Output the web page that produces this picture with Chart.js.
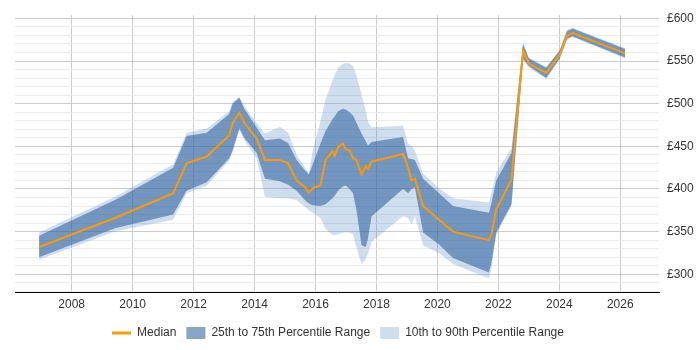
<!DOCTYPE html>
<html><head><meta charset="utf-8">
<script src="https://cdn.jsdelivr.net/npm/chart.js@4"></script>
<style>html,body{margin:0;padding:0;background:#fff}#wrap{width:700px;height:350px}</style>
</head><body><div id="wrap"><canvas id="c" width="700" height="350"></canvas></div>
<script>
const years = [2006.93, 2009.42, 2011.33, 2011.77, 2012.43, 2013.17, 2013.28, 2013.50, 2013.68, 2014.07,
  2014.34, 2014.83, 2015.10, 2015.38, 2015.65, 2015.78, 2015.91, 2016.16, 2016.33, 2016.56,
  2016.63, 2016.74, 2016.90, 2016.99, 2017.12, 2017.23, 2017.34, 2017.51, 2017.65, 2017.72,
  2017.84, 2018.87, 2019.04, 2019.15, 2019.26, 2019.53, 2020.08, 2020.51, 2021.69, 2021.77,
  2021.93, 2022.43, 2022.81, 2023.00, 2023.57, 2024.01, 2024.25, 2024.43, 2026.16];
const median = [332, 366, 395, 430, 438, 463, 477, 489, 477, 459, 434, 434, 430, 410, 402, 396, 401, 404, 434, 444,
  439, 449, 453, 447, 445, 436, 434, 417, 427, 423, 432, 441, 425, 410, 412, 380, 363, 350, 340, 346,
  376, 411, 562, 547, 536, 557, 579, 583, 559];
const p75 = [345, 387, 425, 462, 466, 488, 500, 507, 493, 472, 457, 459, 454, 434, 422, 417, 429, 453, 468, 482,
  485, 491, 494, 493, 490, 486, 478, 465, 456, 451, 455, 461, 436, 435, 434, 412, 394, 380, 372, 383,
  410, 442, 570, 553, 542, 562, 585, 588, 564];
const p25 = [320, 354, 370, 398, 408, 436, 445, 471, 459, 442, 412, 409, 405, 398, 387, 383, 381, 380, 382, 389,
  392, 398, 403, 404, 400, 395, 376, 334, 332, 342, 368, 400, 395, 400, 402, 349, 334, 319, 302, 313,
  349, 382, 553, 544, 530, 553, 576, 579, 554];
const p90 = [349, 391, 429, 466, 471, 491, 502, 508, 496, 477, 465, 473, 466, 440, 425, 419, 445, 479, 505, 527,
  534, 542, 547, 548, 547, 544, 533, 511, 491, 479, 472, 474, 453, 451, 445, 418, 400, 389, 384, 395,
  419, 448, 572, 554, 543, 563, 586, 589, 565];
const p10 = [317, 350, 364, 395, 404, 433, 443, 469, 456, 436, 391, 389, 389, 387, 379, 375, 372, 366, 353, 346,
  346, 347, 349, 349, 349, 347, 332, 312, 318, 324, 338, 368, 366, 358, 368, 334, 324, 312, 295, 306,
  346, 380, 551, 542, 529, 552, 574, 578, 553];
const xTicks = [2008, 2010, 2012, 2014, 2016, 2018, 2020, 2022, 2024, 2026];
const yTicks = [280, 290, 300, 310, 320, 330, 340, 350, 360, 370, 380, 390, 400, 410, 420, 430, 440, 450, 460, 470,
  480, 490, 500, 510, 520, 530, 540, 550, 560, 570, 580, 590, 600];
const seriesLabels = ['Median', '25th to 75th Percentile Range', '10th to 90th Percentile Range'];

const ORANGE = '#ff9900';
const DARK = 'rgba(39,91,155,0.55)';
const LIGHT = 'rgba(95,145,198,0.3)';
const NONE = 'rgba(0,0,0,0)';
const FONT = {family: '"Liberation Sans", Arial, sans-serif', size: 12};
const TXT = '#333';

const pts = arr => arr.map((v, i) => ({x: years[i], y: v}));
const band = (data, color, fill) => ({data: pts(data), borderColor: NONE, borderWidth: 0, backgroundColor: color,
  fill: fill, pointRadius: 0, pointHoverRadius: 0, tension: 0});

const legendShift = {
  id: 'legendShift',
  afterLayout(chart) {
    const l = chart.legend;
    if (l) { l.left -= 19.5; l.right -= 19.5; }
  }
};

new Chart(document.getElementById('c'), {
  type: 'line',
  plugins: [legendShift],
  data: {
    datasets: [
      {label: seriesLabels[0], data: pts(median), borderColor: ORANGE, borderWidth: 2, backgroundColor: ORANGE,
       fill: false, pointRadius: 0, pointHoverRadius: 0, tension: 0},
      Object.assign(band(p75, DARK, '+1'), {label: seriesLabels[1]}),
      Object.assign(band(p25, NONE, false), {label: 'p25'}),
      Object.assign(band(p90, LIGHT, '+1'), {label: seriesLabels[2]}),
      Object.assign(band(p10, NONE, false), {label: 'p10'})
    ]
  },
  options: {
    responsive: false,
    animation: false,
    events: [],
    layout: {padding: {left: 15, right: 0, top: 5, bottom: 1}},
    scales: {
      x: {
        type: 'linear', position: 'bottom', min: 2006.14, max: 2027.27,
        afterBuildTicks: s => { s.ticks = xTicks.map(v => ({value: v})); },
        afterFit: s => { s.height = 24.5; },
        ticks: {callback: v => String(v), font: FONT, color: TXT, padding: 5, autoSkip: false, maxRotation: 0},
        grid: {color: '#cccccc', drawTicks: false, lineWidth: 1},
        border: {display: true, color: '#000000', width: 1}
      },
      y: {
        type: 'linear', position: 'right', min: 278.6, max: 603.7,
        afterBuildTicks: s => { s.ticks = yTicks.map(v => ({value: v})); },
        afterFit: s => { s.width = 41; },
        ticks: {callback: v => (v % 50 === 0 ? '£' + v : ''), font: FONT, color: TXT, padding: 8, autoSkip: false},
        grid: {color: c => (c.tick && c.tick.value % 50 === 0 ? '#cccccc' : '#ebebeb'), drawTicks: false, lineWidth: 1},
        border: {display: false}
      }
    },
    plugins: {
      tooltip: {enabled: false},
      legend: {
        position: 'bottom',
        labels: {
          usePointStyle: true, pointStyleWidth: 19, boxHeight: 12, padding: 10, font: FONT, color: TXT,
          generateLabels: () => [
            {text: seriesLabels[0], fillStyle: ORANGE, strokeStyle: ORANGE, lineWidth: 3, pointStyle: 'line', datasetIndex: 0, hidden: false, fontColor: TXT},
            {text: seriesLabels[1], fillStyle: DARK, strokeStyle: NONE, lineWidth: 0, pointStyle: 'rect', datasetIndex: 1, hidden: false, fontColor: TXT},
            {text: seriesLabels[2], fillStyle: LIGHT, strokeStyle: NONE, lineWidth: 0, pointStyle: 'rect', datasetIndex: 3, hidden: false, fontColor: TXT}
          ]
        }
      }
    }
  }
});
</script></body></html>
